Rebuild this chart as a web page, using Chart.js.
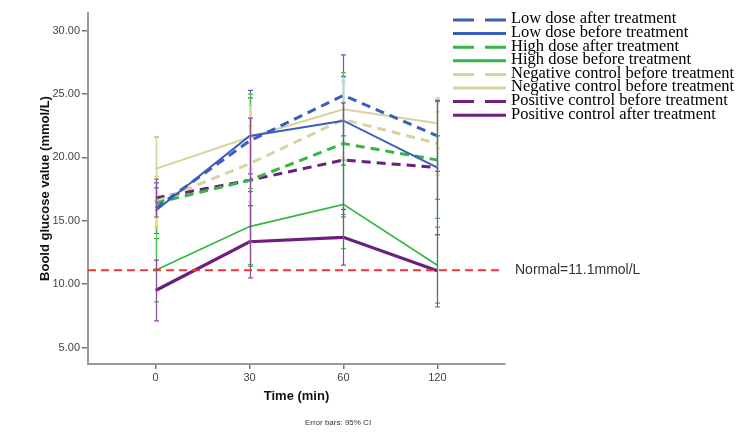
<!DOCTYPE html>
<html>
<head>
<meta charset="utf-8">
<script src="https://cdn.jsdelivr.net/npm/chart.js@4.4.1/dist/chart.umd.min.js"></script>
<style>
  html, body { margin: 0; padding: 0; background: #fff; }
  #wrap { width: 740px; height: 442px; }
</style>
</head>
<body>
<div id="wrap"><canvas id="glucoseChart" width="740" height="442"></canvas></div>
<script>
// time points (min) and y ticks
const timeLabels = ['0', '30', '60', '120'];
const yTicks = [5, 10, 15, 20, 25, 30];
const NORMAL = 11.1;

// series names
const seriesNames = [
    'Low dose after treatment',
    'Low dose before treatment',
    'High dose after treatment',
    'High dose before treatment',
    'Negative control before treatment',
    'Negative control before treatment',
    'Positive control before treatment',
    'Positive control after treatment'
];

// mean values
const lowAfter   = [16.0, 21.3, 24.9, 21.7];
const lowBefore  = [15.8, 21.7, 22.9, 19.2];
const highAfter  = [16.4, 18.2, 21.1, 19.8];
const highBefore = [11.1, 14.55, 16.3, 11.5];
const negDashed  = [16.5, 19.5, 23.0, 21.1];
const negSolid   = [19.1, 21.6, 23.8, 22.7];
const posDashed  = [16.8, 18.2, 19.8, 19.2];
const posSolid   = [9.5, 13.35, 13.7, 11.05];

// half width of the 95% CI
const lowAfterCI   = [2.0, 4.0, 3.2, 2.8];
const lowBeforeCI  = [1.8, 3.0, 3.5, 2.5];
const highAfterCI  = [5.2, 6.8, 5.6, 4.6];
const highBeforeCI = [2.5, 3.0, 3.5, 3.0];
const negDashedCI  = [2.0, 3.0, 3.0, 2.5];
const negSolidCI   = [2.5, 2.5, 2.5, 2.0];
const posDashedCI  = [1.5, 4.9, 4.5, 5.3];
const posSolidCI   = [2.4, 2.85, 2.2, 2.85];

const seriesValues = [lowAfter, lowBefore, highAfter, highBefore, negDashed, negSolid, posDashed, posSolid];
const seriesCI = [lowAfterCI, lowBeforeCI, highAfterCI, highBeforeCI, negDashedCI, negSolidCI, posDashedCI, posSolidCI];

const BLUE = '#3b5cbf', GREEN = '#33b845', BEIGE = '#d8d29e', PURPLE = '#6c1f7c';
const colors = [BLUE, BLUE, GREEN, GREEN, BEIGE, BEIGE, PURPLE, PURPLE];
const barColors = ['#4a68c8', '#4a68c8', '#45c050', '#45c050', '#e0dc70', '#d8d29e', '#8e4a9a', '#8e4a9a'];
const dashed = [true, false, true, false, true, false, true, false];
const widths = [3, 2, 3, 1.8, 3, 2, 3, 3.2];

const datasets = seriesValues.map(function(vals, i) {
    return {
        label: seriesNames[i],
        data: vals.map(function(v, j) { return { x: j, y: v }; }),
        ci: seriesCI[i],
        barColor: barColors[i],
        borderColor: colors[i],
        backgroundColor: colors[i],
        borderWidth: widths[i],
        borderDash: dashed[i] ? [9, 6] : [],
        pointRadius: 0,
        tension: 0,
        fill: false
    };
});

// error bars, drawn through the scales
const errorBars = {
    id: 'errorBars',
    afterDatasetsDraw(chart) {
        const ctx = chart.ctx, xs = chart.scales.x, ys = chart.scales.y;
        ctx.save();
        chart.data.datasets.forEach(function(ds) {
            ctx.strokeStyle = ds.barColor;
            ctx.lineWidth = 1.2;
            ctx.setLineDash([]);
            ds.data.forEach(function(p, j) {
                const x = Math.round(xs.getPixelForValue(p.x)) + 0.5;
                const y1 = ys.getPixelForValue(p.y - ds.ci[j]);
                const y2 = ys.getPixelForValue(p.y + ds.ci[j]);
                ctx.beginPath();
                ctx.moveTo(x, y1); ctx.lineTo(x, y2);
                ctx.moveTo(x - 2.5, y1); ctx.lineTo(x + 2.5, y1);
                ctx.moveTo(x - 2.5, y2); ctx.lineTo(x + 2.5, y2);
                ctx.stroke();
            });
        });
        ctx.restore();
    }
};

// normal reference line + legend + footnote
const extras = {
    id: 'extras',
    afterDraw(chart) {
        const ctx = chart.ctx, ys = chart.scales.y, area = chart.chartArea;
        ctx.save();
        const yN = ys.getPixelForValue(NORMAL);
        ctx.strokeStyle = '#e8343a';
        ctx.lineWidth = 2;
        ctx.setLineDash([8, 5]);
        ctx.beginPath();
        ctx.moveTo(area.left, yN); ctx.lineTo(area.right - 5, yN);
        ctx.stroke();
        ctx.setLineDash([]);
        ctx.fillStyle = '#333';
        ctx.font = '14px "Liberation Sans", Arial, sans-serif';
        ctx.textBaseline = 'middle';
        ctx.textAlign = 'left';
        ctx.fillText('Normal=11.1mmol/L', area.right + 10, yN);

        // legend
        ctx.font = '16.5px "Liberation Serif", "Times New Roman", serif';
        chart.data.datasets.forEach(function(ds, i) {
            const y = 19 + i * 13.6;
            ctx.strokeStyle = ds.borderColor;
            ctx.lineWidth = 3;
            ctx.setLineDash(dashed[i] ? [21, 11] : []);
            ctx.beginPath();
            ctx.moveTo(453, y + 1); ctx.lineTo(506, y + 1);
            ctx.stroke();
            ctx.fillStyle = '#000';
            ctx.fillText(ds.label, 511, y);
        });
        ctx.setLineDash([]);

        ctx.fillStyle = '#333';
        ctx.font = '8px "Liberation Sans", Arial, sans-serif';
        ctx.textAlign = 'center';
        ctx.fillText('Error bars: 95% CI', 338, 423);
        ctx.restore();
    }
};

new Chart(document.getElementById('glucoseChart'), {
    type: 'line',
    data: { datasets: datasets },
    plugins: [errorBars, extras],
    options: {
        responsive: false,
        animation: false,
        layout: { padding: { left: 34, right: 235, top: 13, bottom: 34 } },
        plugins: { legend: { display: false }, tooltip: { enabled: false } },
        scales: {
            x: {
                type: 'linear',
                min: -0.72,
                max: 3.72,
                afterBuildTicks: function(scale) {
                    scale.ticks = timeLabels.map(function(t, i) { return { value: i }; });
                },
                afterFit: function(scale) { scale.height = 44; },
                ticks: {
                    callback: function(v) { return timeLabels[v]; },
                    color: '#444',
                    font: { family: '"Liberation Sans", Arial, sans-serif', size: 11 },
                    padding: 2,
                    maxRotation: 0
                },
                grid: { drawOnChartArea: false, drawTicks: true, tickLength: 5, color: '#777', lineWidth: 1.5 },
                border: { display: true, color: '#999', width: 2 },
                title: {
                    display: true,
                    text: 'Time (min)',
                    color: '#111',
                    font: { family: '"Liberation Sans", Arial, sans-serif', size: 13, weight: 'bold' },
                    padding: { top: 8 }
                }
            },
            y: {
                min: 3.7,
                max: 31.4,
                afterBuildTicks: function(scale) {
                    scale.ticks = yTicks.map(function(v) { return { value: v }; });
                },
                afterFit: function(scale) { scale.width = 54; },
                ticks: {
                    callback: function(v) { return v.toFixed(2); },
                    color: '#444',
                    font: { family: '"Liberation Sans", Arial, sans-serif', size: 11 },
                    padding: 2
                },
                grid: { drawOnChartArea: false, drawTicks: true, tickLength: 6, color: '#777', lineWidth: 1.5 },
                border: { display: true, color: '#999', width: 2 },
                title: {
                    display: true,
                    text: 'Boold glucose value (mmol/L)',
                    color: '#111',
                    font: { family: '"Liberation Sans", Arial, sans-serif', size: 13, weight: 'bold' },
                    padding: { bottom: 2 }
                }
            }
        }
    }
});
</script>
</body>
</html>
